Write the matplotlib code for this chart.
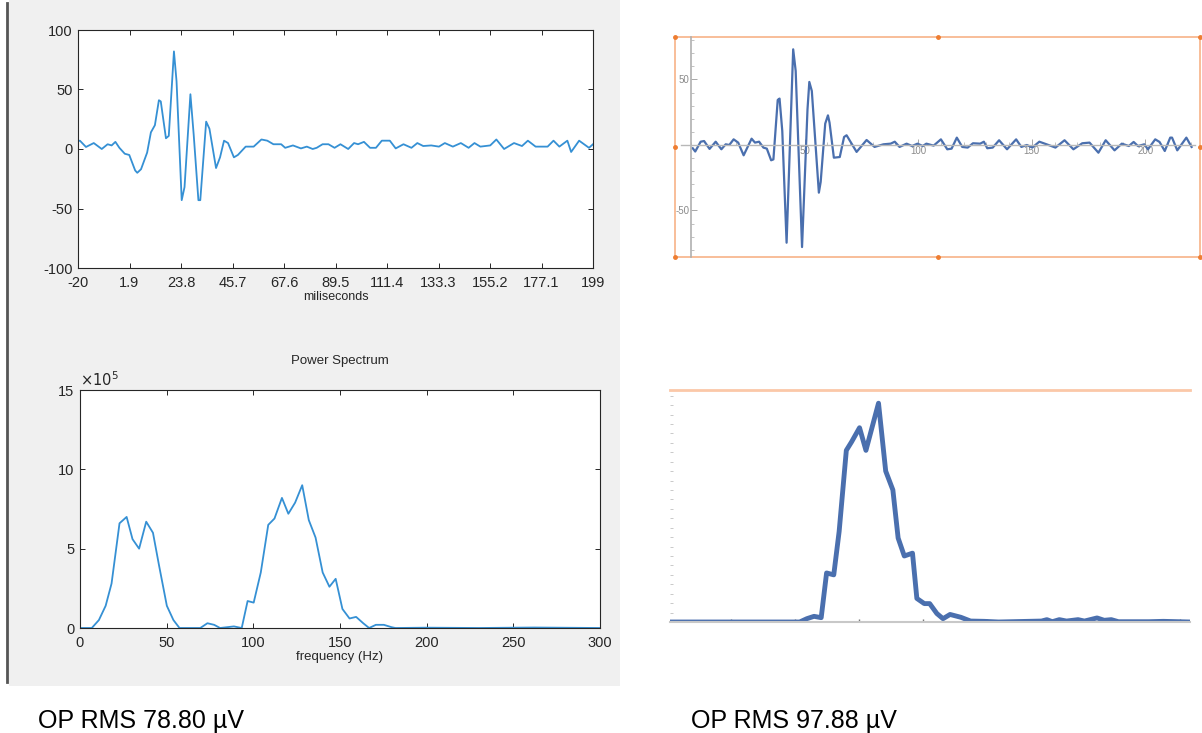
import matplotlib

matplotlib.use("Agg")
import matplotlib.pyplot as plt
from matplotlib.patches import Rectangle
from matplotlib.ticker import MultipleLocator

W, H = 1202, 733

# left, MATLAB-style: time trace (ms, uV)
MS_T = [-20, -19.2, -16.6, -13.3, -9.9, -7.4, -5.7, -4.1, -2.4, -0.1, 1.8, 4.3, 5.2, 6.8, 9.4,
        11.0, 12.7, 14.4, 15.2, 17.4, 18.6, 20.8, 21.9, 24.1, 25.3, 27.8, 29.2, 31.2, 32.0, 34.5,
        35.9, 38.7, 40.4, 42.1, 43.8, 46.3, 48.0, 51.3, 54.7, 58.0, 60.5, 63.1, 66.4, 68.1, 71.4,
        74.8, 77.3, 79.8, 81.5, 84.0, 86.5, 89.1, 91.6, 94.9, 97.4, 99.1, 101.6, 104.2, 106.7,
        109.2, 112.6, 115.1, 118.4, 121.8, 124.3, 126.8, 130.2, 133.5, 136.0, 139.4, 142.8, 146.1,
        148.6, 151.1, 155.3, 157.9, 161.2, 165.4, 168.8, 171.3, 174.6, 179.7, 182.2, 184.7, 188.1,
        189.7, 193.1, 197.3, 199]
MS_V = [6.7, 7, 1.7, 5, 0, 4, 3, 6, 1, -4, -5, -18, -20, -17, -3,
        14, 20, 41, 40, 9, 11, 82, 57, -43, -32, 46, 12, -43, -43, 23,
        17, -16, -7, 7, 5, -7, -5, 2, 2, 8, 7, 4, 4, 1, 3,
        0.5, 2, 0, 1, 4, 4, 1, 4, 0, 5, 4, 6, 1, 1,
        7, 7, 0.5, 4, 1, 5, 2.5, 3, 2, 5, 2, 5, 1,
        5, 2, 3, 8, 0, 5, 2.5, 7, 2, 2, 7, 2, 7,
        -2.5, 7, 1, 4]
MS_TICKS = [-20, 1.9, 23.8, 45.7, 67.6, 89.5, 111.4, 133.3, 155.2, 177.1, 199]
MS_TICK_LABELS = ["-20", "1.9", "23.8", "45.7", "67.6", "89.5", "111.4", "133.3", "155.2", "177.1", "199"]

# left, MATLAB-style: power spectrum (Hz, x1e5)
PS_F = [0, 6.8, 10.9, 14.8, 18.2, 22.8, 26.9, 30.3, 34.1, 38.2, 42.1, 45.5, 50.1, 53.9, 57.4,
        69.4, 73.5, 77.4, 80.8, 88.8, 93.3, 96.7, 100.2, 104.3, 108.6, 112.2, 116.5, 120.2, 124.1,
        128.2, 132.0, 135.9, 140.0, 143.9, 147.5, 151.4, 155.5, 159.3, 163.4, 166.8, 170.7, 175.3,
        179.8, 182, 200, 230, 262, 300]
PS_P = [0, 0, 0.5, 1.4, 2.8, 6.6, 7.0, 5.6, 5.0, 6.7, 6.0, 4.0, 1.4, 0.5, 0,
        0, 0.3, 0.2, 0, 0.1, 0, 1.7, 1.6, 3.5, 6.5, 6.9, 8.2, 7.2, 7.9,
        9.0, 6.8, 5.7, 3.5, 2.6, 3.1, 1.2, 0.6, 0.7, 0.3, 0, 0.2, 0.2,
        0.05, 0, 0.02, 0, 0.03, 0]

# right, Mathematica-style: time trace
MM_T = [0.8, 1.9, 4.3, 5.8, 8.2, 10.9, 13.4, 15.3, 16.9, 18.8, 20.8, 23.2, 26.7, 28.2, 30,
        31.9, 33.4, 35.3, 36.3, 38.2, 39, 40.2, 42.1, 45, 46.1, 48.9, 51.3, 52.1, 53.2, 56.3,
        57.1, 59.1, 60.3, 61, 62.9, 65.5, 67.4, 68.5, 72.9, 77.3, 80.8, 84.7, 87.9, 89.7, 91.8,
        94.9, 97.3, 99.7, 102, 103.6, 106.8, 110, 112.8, 114.7, 117, 119.4, 121.8, 124.1, 127.3,
        128.9, 130.4, 132.8, 135.6, 139.1, 143.1, 145.4, 147.8, 150.2, 153.3, 157.3, 160.4, 164.4,
        168.3, 172.2, 175.4, 179.3, 182.5, 186.4, 189.6, 192.7, 194.8, 196.7, 199.5, 201.1, 204.3,
        206.2, 208.5, 210.9, 211.7, 214, 218, 220.3]
MM_V = [-2.5, -5, 2.5, 3, -3, 2.5, -3.3, 0.5, 0, 4.3, 1.8, -7.9, 4.8, 1.8, 2.5,
        -2, -2.8, -11.7, -11, 34.4, 35.4, 10.7, -74.6, 73, 56.5, -77.9, 27.2, 48.1, 41.2, -36.4,
        -28.2, 16.3, 22.6, 17, -9.7, -9.2, 6.1, 7.4, -5.3, 3.8, -1.5, 0.5, 1, 2.5, -1.5,
        1, -0.8, 1, -0.8, 1, -0.5, 4.3, -3.3, -2.8, 5.6, -1.5, -2, 1.3, 1,
        2.5, -2.5, -2, 3.6, -3.3, 4.3, -1.5, 0, -2, 2.5, 0, -2, 3.6,
        -3.3, 1.3, 1.8, -5.9, 3.6, -4.1, 1, -0.8, 2.3, -0.8, 0.5, -3.3, 4.3,
        2.3, -4.6, 5.6, 5.6, -4.1, 5.6, -1.5]

# right, Mathematica-style: spectrum (no labels in the picture)
MS2_F = [2.5, 103.6, 109.2, 114.8, 120.4, 124.6, 130.2, 134.4, 140, 144.1, 150.3, 155.3, 165.1,
         170.7, 176.3, 180.4, 185.2, 191.6, 195, 200.8, 205, 210.6, 215.4, 220.9, 229.3, 236.9,
         247.5, 258.7, 292.2, 296.4, 300.6, 306.1, 311.7, 320.7, 325.7, 335.5, 341.1, 346.6,
         352.2, 376, 387.2, 408]
MS2_P = [0, 0, 0.35, 0.6, 0.46, 5.2, 5.0, 9.6, 18.2, 19.1, 20.6, 18.2, 23.2,
         16, 14, 8.9, 7, 7.3, 2.5, 1.95, 1.95, 0.9, 0.35, 0.8, 0.5, 0.1,
         0.07, 0, 0.1, 0.25, 0.03, 0.25, 0.1, 0.25, 0.1, 0.43, 0.18, 0.25,
         0.03, 0.03, 0.07, 0]

MATLAB_BLUE = "#3590d4"
WL_BLUE = "#4a6fae"
ORANGE = "#f7b387"


def box(left, top, right, bottom):
    return [left / W, 1 - bottom / H, (right - left) / W, (bottom - top) / H]


def matlab_axes(ax):
    for sp in ax.spines.values():
        sp.set_color("#262626")
        sp.set_linewidth(0.8)
    ax.tick_params(direction="in", top=True, right=True, length=3.5, width=0.7,
                   labelsize=10.5, colors="#262626")
    ax.tick_params(axis="x", pad=6)
    ax.tick_params(axis="y", pad=4)


plt.rcParams["font.family"] = ["Liberation Sans", "DejaVu Sans"]
plt.rcParams["axes.unicode_minus"] = False
fig = plt.figure(figsize=(W / 100, H / 100), dpi=100)

bg = fig.add_axes([0, 0, 1, 1])
bg.set_xlim(0, W)
bg.set_ylim(H, 0)
bg.axis("off")
bg.add_patch(Rectangle((9, 0), 611, 686, color="#f0f0f0", lw=0))
bg.plot([7, 7], [3, 682], color="#555555", lw=2)
bg.text(38, 721, "OP RMS 78.80 µV", fontsize=18, va="center", ha="left")
bg.text(691, 721, "OP RMS 97.88 µV", fontsize=18, va="center", ha="left")

# top left
ax1 = fig.add_axes(box(78, 30, 593, 268))
ax1.plot(MS_T, MS_V, color=MATLAB_BLUE, lw=1.3)
ax1.set_xlim(-20, 199)
ax1.set_ylim(-100, 100)
ax1.set_xticks(MS_TICKS)
ax1.set_xticklabels(MS_TICK_LABELS)
ax1.set_yticks([-100, -50, 0, 50, 100])
matlab_axes(ax1)
ax1.set_xlabel("miliseconds", fontsize=9, labelpad=0.5, color="#262626")

# bottom left
ax2 = fig.add_axes(box(80, 390, 600, 628))
ax2.plot(PS_F, PS_P, color=MATLAB_BLUE, lw=1.3)
ax2.set_xlim(0, 300)
ax2.set_ylim(0, 15)
ax2.set_xticks(range(0, 301, 50))
ax2.set_yticks([0, 5, 10, 15])
matlab_axes(ax2)
ax2.set_xlabel("frequency (Hz)", fontsize=9.5, labelpad=0.5, color="#262626")
ax2.set_title("Power Spectrum", fontsize=9.5, pad=19, color="#262626")
ax2.text(0.0, 1.005, r"$\times10^5$", transform=ax2.transAxes, fontsize=10.5,
         ha="left", va="bottom", color="#262626")

# top right
ax3 = fig.add_axes(box(675, 37, 1200, 257))
ax3.plot(MM_T, MM_V, color=WL_BLUE, lw=1.6)
ax3.set_xlim(-7, 224)
ax3.set_ylim(-85.5, 82.4)
ax3.spines["top"].set_visible(False)
ax3.spines["right"].set_visible(False)
ax3.spines["left"].set_position(("data", 0))
ax3.spines["bottom"].set_position(("data", 0))
ax3.spines["bottom"].set_bounds(-4.4, 222)
ax3.spines["left"].set_color("#b0b0b0")
ax3.spines["left"].set_linewidth(1.2)
ax3.spines["bottom"].set_color("#b8b8b8")
ax3.spines["bottom"].set_linewidth(1.0)
ax3.set_xticks([50, 100, 150, 200])
ax3.set_yticks([-50, 50])
ax3.xaxis.set_minor_locator(MultipleLocator(10))
ax3.yaxis.set_minor_locator(MultipleLocator(10))
ax3.tick_params(which="both", direction="in", color="#a8a8a8", labelcolor="#8a8a8a", labelsize=7)
ax3.tick_params(which="major", length=4, width=0.7, pad=1)
ax3.tick_params(which="minor", length=2, width=0.5)
ax3.add_patch(Rectangle((0, 0), 1, 1, transform=ax3.transAxes, fill=False,
                        edgecolor=ORANGE, lw=1.2, clip_on=False))
ax3.plot([0, 0.5, 1, 0, 0.5, 1, 0, 1], [1, 1, 1, 0, 0, 0, 0.5, 0.5], "o", ms=2.5,
         color="#ee7d31", transform=ax3.transAxes, clip_on=False)

# bottom right
ax4 = fig.add_axes(box(670, 390, 1190, 622))
ax4.plot(MS2_F, MS2_P, color=WL_BLUE, lw=3.5, solid_joinstyle="round")
ax4.set_xlim(2.5, 408)
ax4.set_ylim(0, 24.6)
ax4.spines["left"].set_visible(False)
ax4.spines["right"].set_visible(False)
ax4.spines["top"].set_color("#fbc8a8")
ax4.spines["top"].set_linewidth(2)
ax4.spines["bottom"].set_color("#c8c8c8")
ax4.spines["bottom"].set_linewidth(1.5)
ax4.set_xticks(range(50, 401, 50))
ax4.yaxis.set_major_locator(MultipleLocator(1))
ax4.tick_params(labelleft=False, labelbottom=False, direction="in")
ax4.tick_params(axis="x", length=2, width=1, color="#777777")
ax4.tick_params(axis="y", length=2, width=0.6, color="#c0c0c0")

fig.savefig("out.png", dpi=100)
